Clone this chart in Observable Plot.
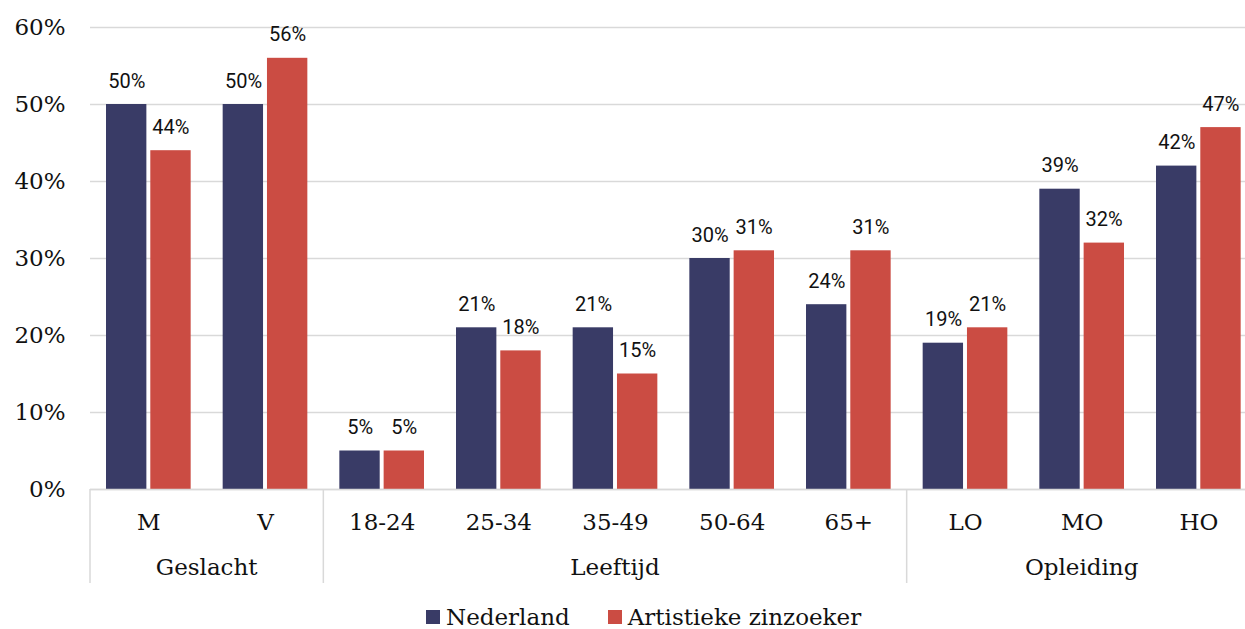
<!DOCTYPE html>
<html>
<head>
<meta charset="utf-8">
<script src="https://cdn.jsdelivr.net/npm/d3@7"></script>
<script src="https://cdn.jsdelivr.net/npm/@observablehq/plot@0.6"></script>
<style>
  html, body { margin: 0; padding: 0; background: #fff; }
  #wrap { position: relative; width: 1245px; height: 629px; overflow: hidden; }
  #legend { position: absolute; left: 426px; top: 604px; display: flex; align-items: center;
    font-family: "DejaVu Serif", serif; font-size: 23px; color: #111; white-space: nowrap; }
  #legend .item { display: flex; align-items: center; margin-right: 38px; }
  #legend .sw { width: 14px; height: 14px; margin-right: 6px; }
</style>
</head>
<body>
<div id="wrap"></div>
<script>
const categories = ["M", "V", "18-24", "25-34", "35-49", "50-64", "65+", "LO", "MO", "HO"];
const groups = ["Geslacht", "Geslacht", "Leeftijd", "Leeftijd", "Leeftijd", "Leeftijd", "Leeftijd", "Opleiding", "Opleiding", "Opleiding"];
const groupNames = ["Geslacht", "Leeftijd", "Opleiding"];
const seriesNames = ["Nederland", "Artistieke zinzoeker"];
const nederland = [50, 50, 5, 21, 21, 30, 24, 19, 39, 42];
const artistiek = [44, 56, 5, 18, 15, 31, 31, 21, 32, 47];
const yTicks = [0, 10, 20, 30, 40, 50, 60];
const colors = ["#393b66", "#cb4c43"];

const dataNL = categories.map((c, i) => ({cat: c, value: nederland[i]}));
const dataAZ = categories.map((c, i) => ({cat: c, value: artistiek[i]}));

const W = 1245, H = 600;
const slot = (1256.67 - 90) / categories.length;

function groupMark(index, scales) {
  const x = scales.x, y = scales.y;
  const bw = x.bandwidth ? x.bandwidth() : slot;
  const ns = "http://www.w3.org/2000/svg";
  const g = document.createElementNS(ns, "g");
  const y0 = y(0);
  const boundaries = new Set();
  groupNames.forEach(name => {
    const cats = categories.filter((c, i) => groups[i] === name);
    const x1 = x(cats[0]);
    const x2 = x(cats[cats.length - 1]) + bw;
    boundaries.add(x1); boundaries.add(x2);
    const t = document.createElementNS(ns, "text");
    t.setAttribute("x", (x1 + x2) / 2);
    t.setAttribute("y", 575);
    t.setAttribute("text-anchor", "middle");
    t.setAttribute("font-size", 23);
    t.setAttribute("fill", "#111");
    t.textContent = name;
    g.appendChild(t);
  });
  boundaries.forEach(bx => {
    const l = document.createElementNS(ns, "line");
    l.setAttribute("x1", bx); l.setAttribute("x2", bx);
    l.setAttribute("y1", y0); l.setAttribute("y2", 583);
    l.setAttribute("stroke", "#d9d9d9");
    l.setAttribute("stroke-width", 1.5);
    g.appendChild(l);
  });
  return g;
}

const chart = Plot.plot({
  width: W,
  height: H,
  marginLeft: 90,
  marginRight: 0,
  marginTop: 27,
  marginBottom: H - 489,
  style: {fontFamily: "DejaVu Serif, serif", color: "#111", background: "#fff"},
  x: {domain: categories, range: [90, 1256.67], padding: 0, round: false, label: null},
  y: {domain: [0, 60], label: null},
  marks: [
    Plot.gridY(yTicks, {stroke: "#d9d9d9", strokeOpacity: 1, strokeWidth: 1.5}),
    Plot.barY(dataNL, {x: "cat", y: "value", fill: colors[0], insetLeft: 16, insetRight: 60.3}),
    Plot.barY(dataAZ, {x: "cat", y: "value", fill: colors[1], insetLeft: 60.3, insetRight: 16}),
    Plot.text(dataNL, {x: "cat", y: "value", text: d => d.value + "%", dx: -22, dy: -17, lineAnchor: "bottom",
      fontFamily: "Roboto", fontSize: 20, fill: "#111"}),
    Plot.text(dataAZ, {x: "cat", y: "value", text: d => d.value + "%", dx: 22, dy: -17, lineAnchor: "bottom",
      fontFamily: "Roboto", fontSize: 20, fill: "#111"}),
    Plot.ruleY([0], {stroke: "#d9d9d9", strokeWidth: 1.5}),
    Plot.axisY({ticks: yTicks, tickFormat: d => d + "%", tickSize: 0, tickPadding: 25, fontSize: 23, label: null}),
    Plot.axisX({tickSize: 0, tickPadding: 24, fontSize: 23, label: null}),
    groupMark
  ]
});

const wrap = document.getElementById("wrap");
wrap.appendChild(chart);

const legend = document.createElement("div");
legend.id = "legend";
seriesNames.forEach((n, i) => {
  const it = document.createElement("div");
  it.className = "item";
  const sw = document.createElement("div");
  sw.className = "sw";
  sw.style.background = colors[i];
  const lab = document.createElement("span");
  lab.textContent = n;
  it.appendChild(sw); it.appendChild(lab);
  legend.appendChild(it);
});
wrap.appendChild(legend);
</script>
</body>
</html>
